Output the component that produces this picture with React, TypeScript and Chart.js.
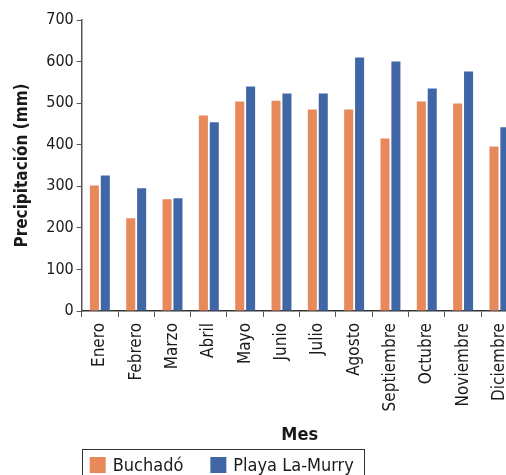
import React, { useEffect, useRef } from "react";
import { Chart, registerables } from "chart.js";

Chart.register(...registerables);

const months = ["Enero", "Febrero", "Marzo", "Abril", "Mayo", "Junio", "Julio", "Agosto", "Septiembre", "Octubre", "Noviembre", "Diciembre"];
const buchado = [302, 223, 269, 470, 504, 506, 485, 485, 415, 504, 499, 396];
const playaLaMurry = [326, 295, 271, 454, 540, 523, 523, 610, 600, 535, 576, 442];
const seriesNames = ["Buchadó", "Playa La-Murry"];
const yTicks = [0, 100, 200, 300, 400, 500, 600, 700];

const FONT = '"DejaVu Sans Condensed", "DejaVu Sans", sans-serif';
const ORANGE = "#E8895C";
const BLUE = "#4166A5";

const boxedLegend = {
  id: "boxedLegend",
  afterDraw(chart: any) {
    const ctx = chart.ctx;
    const x0 = chart.chartArea.left;
    const y0 = chart.scales.x.bottom;
    ctx.save();
    ctx.font = `18px ${FONT}`;
    ctx.textBaseline = "middle";
    ctx.textAlign = "left";
    let x = x0 + 8;
    const sq = 16;
    const cy = y0 + 8 + sq / 2;
    chart.data.datasets.forEach((ds: any, i: number) => {
      ctx.fillStyle = ds.backgroundColor;
      ctx.fillRect(x, y0 + 8, sq, sq);
      x += sq + 7;
      ctx.fillStyle = "#1a1a1a";
      ctx.fillText(ds.label, x, cy + 1);
      x += ctx.measureText(ds.label).width;
      if (i < chart.data.datasets.length - 1) x += 27;
    });
    x += 10;
    ctx.strokeStyle = "#333";
    ctx.lineWidth = 1;
    ctx.strokeRect(Math.round(x0) + 0.5, Math.round(y0) + 0.5, Math.round(x - x0), 60);
    ctx.restore();
  },
};

export default function App() {
  const ref = useRef<HTMLCanvasElement>(null);
  useEffect(() => {
    if (!ref.current) return;
    const chart = new Chart(ref.current, {
      type: "bar",
      data: {
        labels: months,
        datasets: [
          { label: seriesNames[0], data: buchado, backgroundColor: ORANGE, categoryPercentage: 0.6, barPercentage: 0.83 },
          { label: seriesNames[1], data: playaLaMurry, backgroundColor: BLUE, categoryPercentage: 0.6, barPercentage: 0.83 },
        ],
      },
      options: {
        animation: false,
        responsive: false,
        devicePixelRatio: 1,
        layout: { padding: { top: 20, right: 4, bottom: 41, left: 0 } },
        plugins: { legend: { display: false }, tooltip: { enabled: false } },
        scales: {
          x: {
            afterFit: (s: any) => { s.height = 138; },
            grid: { drawOnChartArea: false, drawTicks: true, tickLength: 6, color: "#555" },
            border: { display: true, color: "#333", width: 1.5 },
            ticks: { minRotation: 90, maxRotation: 90, autoSkip: false, padding: 6, color: "#1a1a1a", font: { family: FONT, size: 17 } },
            title: { display: true, text: "Mes", color: "#1a1a1a", font: { family: FONT, size: 18, weight: "bold" }, padding: { top: 0, bottom: 3 } },
          },
          y: {
            min: 0,
            max: 700,
            afterFit: (s: any) => { s.width = 81.7; },
            afterBuildTicks: (s: any) => { s.ticks = yTicks.map((v) => ({ value: v })); },
            grid: { drawOnChartArea: false, drawTicks: true, tickLength: 5, color: "#555" },
            border: { display: true, color: "#555", width: 1.5 },
            ticks: { padding: 3, color: "#1a1a1a", font: { family: FONT, size: 16 } },
            title: { display: true, text: "Precipitación (mm)", color: "#1a1a1a", font: { family: FONT, size: 17, weight: "bold" }, padding: { top: 12, bottom: 0 } },
          },
        },
      },
      plugins: [boxedLegend],
    } as any);
    return () => chart.destroy();
  }, []);
  return (
    <div style={{ position: "fixed", left: 0, top: 0, width: 506, height: 475, overflow: "hidden", background: "#fff" }}>
      <canvas ref={ref} width={526} height={490} style={{ display: "block" }} />
    </div>
  );
}
